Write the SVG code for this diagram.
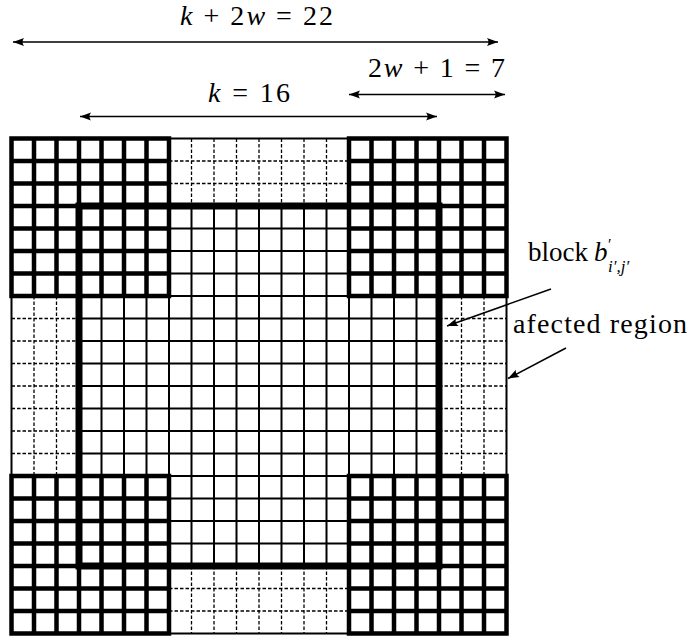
<svg xmlns="http://www.w3.org/2000/svg" width="690" height="637" viewBox="0 0 690 637">
<style>
.txt{font-family:"Liberation Serif","Times New Roman",serif;font-size:28px;fill:#000}
.it{font-style:italic}
.dash{stroke:#000;stroke-width:1.3;stroke-dasharray:3.5 2;fill:none}
.thin{stroke:#000;stroke-width:2;fill:none}
.thick{stroke:#000;stroke-width:4.5;fill:none;stroke-linecap:square}
.border{stroke:#000;stroke-width:7;fill:none;stroke-linecap:square}
.arr{stroke:#000;stroke-width:1.5;fill:none}
</style>
<defs>
<marker id="ah" viewBox="-12 -5 13 10" markerWidth="13" markerHeight="10" refX="0" refY="0" markerUnits="userSpaceOnUse" orient="auto-start-reverse">
<path d="M0,0 L-11,-4 Q-8,0 -11,4 Z" fill="#000"/>
</marker>
</defs>
<rect width="690" height="637" fill="#fff"/>
<g id="grid">
<g id="dashed-regions">
<path class="dash" d="M191.5,138.5V206M214,138.5V206M236.5,138.5V206M259,138.5V206M281.5,138.5V206M304,138.5V206M326.5,138.5V206M169,161H349M169,183.5H349"/>
<path class="dash" d="M191.5,566V633.5M214,566V633.5M236.5,566V633.5M259,566V633.5M281.5,566V633.5M304,566V633.5M326.5,566V633.5M169,588.5H349M169,611H349"/>
<path class="dash" d="M11.5,318.5H79M11.5,341H79M11.5,363.5H79M11.5,386H79M11.5,408.5H79M11.5,431H79M11.5,453.5H79M34,296V476M56.5,296V476"/>
<path class="dash" d="M439,318.5H506.5M439,341H506.5M439,363.5H506.5M439,386H506.5M439,408.5H506.5M439,431H506.5M439,453.5H506.5M461.5,296V476M484,296V476"/>
</g>
<rect id="outer" class="thin" x="11.5" y="138.5" width="495" height="495"/>
<g id="inner-grid">
<path class="thin" d="M101.5,206V566M124,206V566M146.5,206V566M169,206V566M191.5,206V566M214,206V566M236.5,206V566M259,206V566M281.5,206V566M304,206V566M326.5,206V566M349,206V566M371.5,206V566M394,206V566M416.5,206V566"/>
<path class="thin" d="M79,228.5H439M79,251H439M79,273.5H439M79,296H439M79,318.5H439M79,341H439M79,363.5H439M79,386H439M79,408.5H439M79,431H439M79,453.5H439M79,476H439M79,498.5H439M79,521H439M79,543.5H439"/>
</g>
<g id="corner-tl">
<path class="thick" d="M11.5,138.5V296M34,138.5V296M56.5,138.5V296M79,138.5V296M101.5,138.5V296M124,138.5V296M146.5,138.5V296M169,138.5V296M11.5,138.5H169M11.5,161H169M11.5,183.5H169M11.5,206H169M11.5,228.5H169M11.5,251H169M11.5,273.5H169M11.5,296H169"/>
</g>
<g id="corner-tr">
<path class="thick" d="M349,138.5V296M371.5,138.5V296M394,138.5V296M416.5,138.5V296M439,138.5V296M461.5,138.5V296M484,138.5V296M506.5,138.5V296M349,138.5H506.5M349,161H506.5M349,183.5H506.5M349,206H506.5M349,228.5H506.5M349,251H506.5M349,273.5H506.5M349,296H506.5"/>
</g>
<g id="corner-bl">
<path class="thick" d="M11.5,476V633.5M34,476V633.5M56.5,476V633.5M79,476V633.5M101.5,476V633.5M124,476V633.5M146.5,476V633.5M169,476V633.5M11.5,476H169M11.5,498.5H169M11.5,521H169M11.5,543.5H169M11.5,566H169M11.5,588.5H169M11.5,611H169M11.5,633.5H169"/>
</g>
<g id="corner-br">
<path class="thick" d="M349,476V633.5M371.5,476V633.5M394,476V633.5M416.5,476V633.5M439,476V633.5M461.5,476V633.5M484,476V633.5M506.5,476V633.5M349,476H506.5M349,498.5H506.5M349,521H506.5M349,543.5H506.5M349,566H506.5M349,588.5H506.5M349,611H506.5M349,633.5H506.5"/>
</g>
<rect id="inner-border" class="border" x="79" y="206" width="360" height="360"/>
</g>
<g id="connectors">
<line class="arr" x1="13" y1="42" x2="498" y2="42" marker-start="url(#ah)" marker-end="url(#ah)"/>
<line class="arr" x1="349" y1="94.5" x2="505" y2="94.5" marker-start="url(#ah)" marker-end="url(#ah)"/>
<line class="arr" x1="80" y1="116.5" x2="437" y2="116.5" marker-start="url(#ah)" marker-end="url(#ah)"/>
<line class="arr" x1="551" y1="289" x2="447" y2="326" marker-end="url(#ah)"/>
<line class="arr" x1="566" y1="348" x2="508" y2="378.5" marker-end="url(#ah)"/>
</g>
<g id="labels">
<text class="txt" x="180" y="25" textLength="153" lengthAdjust="spacing"><tspan class="it">k</tspan> + 2<tspan class="it">w</tspan> = 22</text>
<text class="txt" x="368" y="77" textLength="137" lengthAdjust="spacing">2<tspan class="it">w</tspan> + 1 = 7</text>
<text class="txt" x="208" y="102" textLength="82" lengthAdjust="spacing"><tspan class="it">k</tspan> = 16</text>
<text class="txt" x="528" y="260.5" style="font-size:27px">block<tspan class="it" x="594">b</tspan><tspan x="608" y="250" style="font-size:16px">′</tspan><tspan class="it" x="608" y="272" style="font-size:17px">i′,j′</tspan></text>
<text class="txt" x="513" y="333" textLength="174" lengthAdjust="spacing">afected region</text>
</g>
</svg>
